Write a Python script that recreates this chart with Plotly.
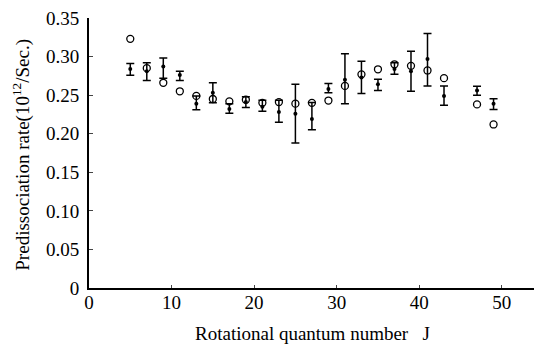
import plotly.graph_objects as go

J = [5, 7, 9, 11, 13, 15, 17, 19, 21, 23, 25, 27, 29, 31, 33, 35, 37, 39, 41, 43, 47, 49]
rate_exp = [0.284, 0.281, 0.287, 0.276, 0.239, 0.253, 0.232, 0.241, 0.235, 0.228, 0.226, 0.219,
            0.258, 0.270, 0.273, 0.264, 0.284, 0.281, 0.297, 0.249, 0.256, 0.239]
err_top = [0.291, 0.292, 0.298, 0.281, 0.249, 0.266, 0.239, 0.248, 0.2435, 0.2435, 0.264, 0.2405,
           0.265, 0.3035, 0.294, 0.2705, 0.292, 0.307, 0.330, 0.262, 0.2614, 0.2453]
err_bot = [0.2757, 0.269, 0.272, 0.269, 0.231, 0.240, 0.2266, 0.234, 0.229, 0.215, 0.188, 0.205,
           0.253, 0.239, 0.252, 0.256, 0.277, 0.255, 0.262, 0.237, 0.250, 0.2314]
rate_calc = [0.323, 0.285, 0.266, 0.255, 0.249, 0.245, 0.242, 0.244, 0.240, 0.241, 0.239, 0.240,
             0.243, 0.262, 0.277, 0.2835, 0.290, 0.288, 0.282, 0.272, 0.238, 0.212]

x_ticks = [0, 10, 20, 30, 40, 50]
y_ticks = [0, 0.05, 0.10, 0.15, 0.20, 0.25, 0.30, 0.35]
y_tick_text = ["0", "0.05", "0.10", "0.15", "0.20", "0.25", "0.30", "0.35"]

FONT = "Liberation Serif"

fig = go.Figure()
fig.add_trace(go.Scatter(
    x=J, y=rate_exp, mode="markers",
    marker=dict(symbol="circle", size=4, color="black"),
    error_y=dict(type="data", symmetric=False,
                 array=[t - v for t, v in zip(err_top, rate_exp)],
                 arrayminus=[v - b for v, b in zip(rate_exp, err_bot)],
                 color="black", thickness=1.5, width=4),
    showlegend=False,
))
fig.add_trace(go.Scatter(
    x=J, y=rate_calc, mode="markers",
    marker=dict(symbol="circle-open", size=7, color="black", line=dict(width=1.3)),
    showlegend=False,
))

fig.update_layout(
    width=534, height=347,
    margin=dict(l=89, r=0, t=18, b=59),
    paper_bgcolor="white", plot_bgcolor="white",
    font=dict(family=FONT, size=19, color="black"),
    xaxis=dict(range=[0, 53.9], tickvals=x_ticks, ticks="inside", ticklen=3,
               showline=True, linecolor="black", linewidth=2, showgrid=False,
               zeroline=False, automargin=False, ticklabelstandoff=-4,
               tickfont=dict(family=FONT, size=19)),
    yaxis=dict(range=[0, 0.35], tickvals=y_ticks, ticktext=y_tick_text, ticks="inside", ticklen=4,
               showline=True, linecolor="black", linewidth=2, showgrid=False,
               zeroline=False, automargin=False, ticklabelstandoff=4,
               tickfont=dict(family=FONT, size=19)),
    annotations=[
        dict(text="Rotational quantum number   J", xref="paper", yref="paper",
             x=0.503, y=-0.167, xanchor="center", yanchor="middle", showarrow=False,
             font=dict(family=FONT, size=19)),
        dict(text="Predissociation rate(10<sup>12</sup>/Sec.)", xref="paper", yref="paper",
             x=-0.151, y=0.493, xanchor="center", yanchor="middle", showarrow=False,
             textangle=-90, font=dict(family=FONT, size=19)),
    ],
)

fig.write_html("out.html", config={"displayModeBar": False},
               post_script="document.body.style.margin='0';document.body.style.padding='0';")
